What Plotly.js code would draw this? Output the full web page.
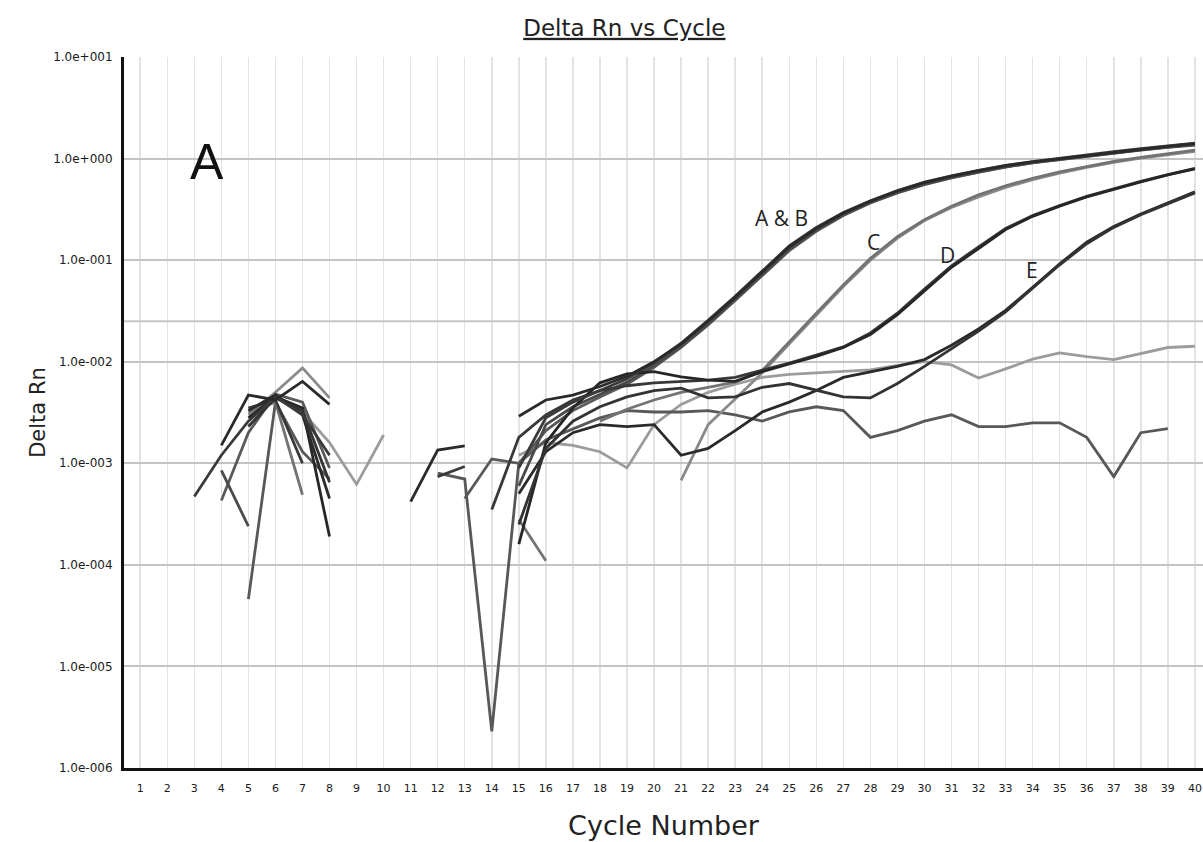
<!DOCTYPE html>
<html>
<head>
<meta charset="utf-8">
<script src="https://cdn.plot.ly/plotly-3.0.1.min.js"></script>
<style>html,body{margin:0;padding:0;background:#fff;}#chart{width:1203px;height:842px;}</style>
</head>
<body>
<div id="chart"></div>
<script>
// Cycle numbers 1..40
const cycles = Array.from({length: 40}, (_, i) => i + 1);
const xTickLabels = cycles.map(String);
const yTickVals = [1e-6, 1e-5, 1e-4, 1e-3, 1e-2, 1e-1, 1e0, 1e1];
const yTickLabels = ["1.0e-006","1.0e-005","1.0e-004","1.0e-003","1.0e-002","1.0e-001","1.0e+000","1.0e+001"];
const threshold = 0.025;
const _ = null;

// Delta Rn per cycle (index 0 = cycle 1), null = not plotted (negative / missing)
const wellA1 = [_,_,_,0.0015,0.0047,0.0042,0.0064,0.0038,_,_, 0.00042,0.00135,0.00148,_,0.0029,0.0042,0.0047,0.0057,0.0072,0.0100, 0.0150,0.025,0.043,0.076,0.135,0.205,0.29,0.38,0.48,0.58, 0.67,0.76,0.85,0.93,1.0,1.08,1.16,1.24,1.32,1.40];
const wellA2 = [_,_,0.00047,0.0012,0.0026,0.0045,0.0030,0.0012,_,_, _,0.00074,0.00093,_,0.0009,0.0028,0.0040,0.0052,0.0068,0.0098, 0.0152,0.0255,0.044,0.078,0.138,0.21,0.295,0.385,0.485,0.585, 0.675,0.765,0.855,0.935,1.01,1.09,1.17,1.25,1.33,1.42];
const wellB1 = [_,_,_,0.00085,0.00024,_,_,_,_,_, _,_,_,_,0.0006,0.0024,0.0036,0.0048,0.0063,0.0092, 0.0142,0.0235,0.041,0.072,0.128,0.198,0.28,0.37,0.465,0.56, 0.65,0.74,0.83,0.91,0.98,1.06,1.14,1.22,1.30,1.37];
const wellB2 = [_,_,_,0.00043,0.0020,0.0048,0.0040,0.0009,_,_, _,_,0.00045,0.0011,0.0010,0.0021,0.0033,0.0045,0.0060,0.0088, 0.0138,0.023,0.040,0.070,0.124,0.192,0.275,0.365,0.46,0.555, 0.645,0.735,0.825,0.905,0.975,1.05,1.13,1.21,1.29,1.36];
const wellC1 = [_,_,_,_,0.0030,0.0050,0.0087,0.0044,_,_, _,_,_,_,_,_,_,_,_,_, 0.00068,0.0024,0.0043,0.0078,0.015,0.029,0.055,0.100,0.165,0.245, 0.33,0.42,0.52,0.62,0.72,0.82,0.92,1.01,1.10,1.18];
const wellC2 = [_,_,_,_,0.0032,0.0040,0.00049,_,_,_, _,_,_,_,0.00028,0.00011,_,0.0026,0.0034,0.0042, 0.0050,0.0056,0.0063,0.0082,0.0155,0.030,0.057,0.104,0.17,0.25, 0.34,0.44,0.54,0.64,0.74,0.84,0.94,1.03,1.12,1.21];
const wellD1 = [_,_,_,_,0.0028,0.0045,0.0035,0.00019,_,_, _,_,_,_,0.00016,0.0016,0.0035,0.0062,0.0076,0.0080, 0.0071,0.0066,0.0064,0.0080,0.0095,0.0113,0.0138,0.0185,0.029,0.050, 0.085,0.13,0.20,0.27,0.34,0.42,0.50,0.59,0.69,0.79];
const wellD2 = [_,_,_,_,0.0035,0.0042,0.0010,_,_,_, _,_,_,0.00035,0.0018,0.0030,0.0042,0.0052,0.0058,0.0062, 0.0064,0.0066,0.0070,0.0082,0.0097,0.0116,0.014,0.0192,0.030,0.052, 0.088,0.135,0.205,0.275,0.345,0.425,0.505,0.595,0.695,0.80];
const wellE1 = [_,_,_,_,0.0023,0.0044,0.0033,0.00065,_,_, _,_,_,_,0.00025,0.0014,0.0026,0.0036,0.0045,0.0052, 0.0055,0.0044,0.0045,0.0056,0.0061,0.0052,0.0045,0.0044,0.0061,0.0090, 0.0135,0.020,0.031,0.053,0.090,0.145,0.21,0.28,0.36,0.46];
const wellE2 = [_,_,_,_,0.0033,0.0047,0.0030,0.00045,_,_, _,_,_,_,0.0005,0.0013,0.0020,0.0024,0.0023,0.0024, 0.0012,0.0014,0.0021,0.0032,0.0040,0.0052,0.0070,0.0079,0.0090,0.0105, 0.0145,0.021,0.032,0.054,0.092,0.15,0.215,0.285,0.365,0.47];
const wellN1 = [_,_,_,_,_,0.0045,0.0032,0.0016,0.00062,0.0019, _,_,_,_,0.0012,0.0016,0.0015,0.0013,0.0009,0.0024, 0.0038,0.0050,0.0060,0.0070,0.0075,0.0078,0.0080,0.0083,0.0092,0.0100, 0.0093,0.0069,0.0085,0.0106,0.0122,0.0112,0.0105,0.0120,0.0138,0.0142];
const wellN2 = [_,_,_,_,0.000046,0.0040,0.0013,0.0007,_,_, _,0.0008,0.0007,0.0000023,0.0010,0.0017,0.0022,0.0028,0.0033,0.0032, 0.0032,0.0033,0.0030,0.0026,0.0032,0.0036,0.0033,0.0018,0.0021,0.0026, 0.0030,0.0023,0.0023,0.0025,0.0025,0.0018,0.00074,0.0020,0.0022,_];

const wells = [
  {y: wellN1, c: '#9c9c9c'},
  {y: wellN2, c: '#585858'},
  {y: wellC1, c: '#8a8a8a'},
  {y: wellC2, c: '#737373'},
  {y: wellB2, c: '#5a5a5a'},
  {y: wellB1, c: '#4a4a4a'},
  {y: wellD2, c: '#383838'},
  {y: wellD1, c: '#262626'},
  {y: wellE2, c: '#2a2a2a'},
  {y: wellE1, c: '#333333'},
  {y: wellA2, c: '#3a3a3a'},
  {y: wellA1, c: '#2a2a2a'}
];

const xRange = [0.4, 40.3];
const traces = [{
  x: xRange, y: [threshold, threshold], mode: 'lines',
  line: {color: '#c6c6c6', width: 2}, hoverinfo: 'skip'
}];
wells.forEach(w => traces.push({
  x: cycles, y: w.y, mode: 'lines', connectgaps: false,
  line: {color: w.c, width: 2.8}
}));

const layout = {
  width: 1203, height: 842,
  paper_bgcolor: '#fff', plot_bgcolor: '#fff',
  showlegend: false,
  margin: {l: 124, r: 0, t: 57, b: 74},
  title: {text: '<u>Delta Rn vs Cycle</u>', x: 0.519, xanchor: 'center', y: 0.967, yanchor: 'middle',
          font: {family: 'DejaVu Sans, sans-serif', size: 23, color: '#222'}},
  xaxis: {
    range: xRange, tickmode: 'array', tickvals: cycles, ticktext: xTickLabels,
    showgrid: true, gridcolor: '#e3e3e3', gridwidth: 1.5,
    showline: true, linecolor: '#111', linewidth: 3,
    ticks: 'outside', ticklen: 8, tickcolor: 'rgba(0,0,0,0)',
    tickfont: {family: 'DejaVu Sans, sans-serif', size: 11, color: '#1a1a1a'},
    zeroline: false,
    title: {text: 'Cycle Number', standoff: 22, font: {family: 'DejaVu Sans, sans-serif', size: 27, color: '#222'}}
  },
  yaxis: {
    type: 'log', range: [-6, 1], tickmode: 'array', tickvals: yTickVals, ticktext: yTickLabels,
    showgrid: true, gridcolor: '#c4c4c4', gridwidth: 2,
    showline: true, linecolor: '#111', linewidth: 3,
    ticks: 'outside', ticklen: 6, tickcolor: 'rgba(0,0,0,0)',
    tickfont: {family: 'DejaVu Sans, sans-serif', size: 12, color: '#1a1a1a'},
    zeroline: false,
    title: {text: 'Delta Rn', standoff: 2, font: {family: 'DejaVu Sans, sans-serif', size: 21, color: '#222'}}
  },
  annotations: [
    {text: 'A', x: 3.48, y: -0.03, xref: 'x', yref: 'y', showarrow: false,
     font: {family: 'Liberation Sans, Arial, sans-serif', size: 50, color: '#111'}},
    {text: 'A &amp; B', x: 24.73, y: -0.585, xref: 'x', yref: 'y', showarrow: false,
     font: {family: 'Open Sans, sans-serif', size: 21, color: '#222'}},
    {text: 'C', x: 28.1, y: -0.82, xref: 'x', yref: 'y', showarrow: false,
     font: {family: 'Open Sans, sans-serif', size: 21, color: '#222'}},
    {text: 'D', x: 30.87, y: -0.95, xref: 'x', yref: 'y', showarrow: false,
     font: {family: 'Open Sans, sans-serif', size: 21, color: '#222'}},
    {text: 'E', x: 33.98, y: -1.1, xref: 'x', yref: 'y', showarrow: false,
     font: {family: 'Open Sans, sans-serif', size: 21, color: '#222'}}
  ]
};

Plotly.newPlot('chart', traces, layout, {staticPlot: true, displayModeBar: false});
</script>
</body>
</html>
